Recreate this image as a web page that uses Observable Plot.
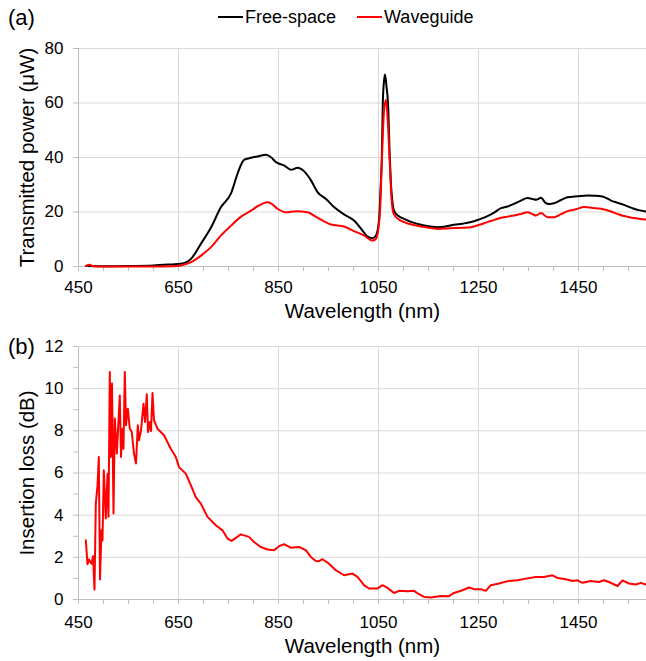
<!DOCTYPE html>
<html><head><meta charset="utf-8">
<script src="https://cdn.jsdelivr.net/npm/d3@7"></script>
<script src="https://cdn.jsdelivr.net/npm/@observablehq/plot@0.6"></script>
<style>
body{margin:0;background:#fff;font-family:"Liberation Sans",Arial,sans-serif;}
#wrap{position:relative;width:646px;height:661px;overflow:hidden;background:#fff}
.pane{position:absolute;left:0}
.lbl{position:absolute;font-size:22px;color:#000;line-height:1}
#legend{position:absolute;top:8px;left:218px;font-size:18px;color:#000;display:flex;align-items:center;line-height:1}
#legend .sw{display:inline-block;width:25px;height:2px;margin-right:2px}
#legend .it{display:flex;align-items:center;margin-right:21px}
</style></head><body>
<div id="wrap">
  <div id="pa" class="pane" style="top:0"></div>
  <div id="pb" class="pane" style="top:330px"></div>
  <div id="legend">
    <span class="it"><span class="sw" style="background:#000"></span>Free-space</span>
    <span class="it"><span class="sw" style="background:#ff0000"></span>Waveguide</span>
  </div>
  <div class="lbl" style="left:8px;top:7px">(a)</div>
  <div class="lbl" style="left:8px;top:336px">(b)</div>
</div>
<script>
// ---- Data ----
const xTicks = [450, 650, 850, 1050, 1250, 1450];
const xMinorTicks = [450,500,550,600,650,700,750,800,850,900,950,1000,1050,1100,1150,1200,1250,1300,1350,1400,1450,1500,1550];
const yTicksA = [0, 20, 40, 60, 80];
const yTicksB = [0, 2, 4, 6, 8, 10, 12];
const yMinorB = [0,1,2,3,4,5,6,7,8,9,10,11,12];

const wlFree = [465,475,500,550,600,630,655,675,695,715,735,755,768,781,795,808,825,835,845,861,875,888,901,915,928,945,961,981,1001,1018,1028,1038,1045,1051,1054,1056.6,1058.6,1061,1063,1066,1069,1072.6,1075,1078,1081,1090,1101,1118,1135,1150,1168,1185,1201,1218,1235,1250,1268,1282,1295,1308,1321,1335,1348,1358,1365,1375,1385,1393,1401,1415,1428,1448,1468,1482,1495,1505,1515,1528,1541,1561,1573,1585];
const pFree  = [0.3,0.2,0.1,0.2,0.4,0.7,1.0,2.8,8.4,14.3,21.8,26.8,34,39.1,39.9,40.4,41.0,40.1,38.3,37.1,35.5,36.2,35,31.6,27.3,24.8,21.8,19.1,16.9,13.2,11,10.4,11.4,17,28,40,60,68,70.5,66,60,40,30,23.5,20.5,18.5,17.5,16.2,15.3,14.8,14.4,14.7,15.3,15.7,16.3,17.2,18.5,19.9,21.4,22.0,23,24.2,25.1,24.8,24.5,25.2,23.2,22.9,23.2,24.4,25.4,25.8,26.1,26.0,25.8,25.2,24.2,23.4,22.6,21.2,20.6,20.2];

const wlWg = [465,473,478,500,550,600,635,655,675,695,715,735,755,775,795,811,828,835,848,865,885,908,928,955,981,1001,1021,1038,1045,1051,1053,1057,1061,1065,1068,1072,1076,1080,1090,1101,1118,1135,1150,1168,1185,1201,1218,1235,1250,1268,1282,1295,1308,1321,1335,1348,1358,1365,1375,1388,1401,1415,1428,1445,1461,1478,1495,1515,1528,1541,1561,1585];
const pWg  = [0.2,0.6,0.1,0.0,0.0,0.0,0.1,0.4,1.6,4.0,7.1,11.4,15,18.3,20.5,22.4,23.6,23.2,21.2,19.9,20.3,19.9,17.9,15.4,14.7,13,11.4,9.5,10.2,15.8,20,40,57,61.2,55,40,25,19.5,17.3,16.3,15.3,14.7,14.2,13.8,13.9,14.1,14.2,14.4,15.2,16.3,17.1,17.9,18.3,18.7,19.3,19.9,19.2,18.7,19.6,18.1,18.1,19.2,20.3,21.0,21.8,21.5,21.2,20.2,19.3,18.5,17.8,17.2];

const wlIL = [464.6,468,471,476,479,482,484.6,488,490.6,493,496,498,500.6,504.6,508,510,512.6,514.6,517,520,522.6,526.6,532.6,535,538,540,542.6,545,548.6,552.6,556.6,561,565,568.6,571,575,580,583,586.6,589,592.6,595,598,601,608,621,634.6,644.6,651,664.6,674.6,684.6,694.6,708,724.6,738,748,756,764.6,774.6,791,801,814.6,828,841,851,861,874.6,891,904.6,914.6,924.6,931,938,951,964.6,981,998,1008,1021,1031,1048,1058,1068,1081,1091,1108,1121,1131,1141,1154.6,1174.6,1191,1201,1218,1231,1241,1254.6,1264.6,1274.6,1291,1308,1328,1344.6,1364.6,1381,1398,1408,1424.6,1438,1448,1458,1474.6,1491,1501,1511,1528,1538,1551,1564.6,1574.6,1584.6];
const il = [2.81,1.67,1.9,1.7,2.05,0.47,4.55,5.4,6.76,0.95,3.28,2.8,6.13,3.84,5.97,3.92,10.79,6.76,10.24,4.08,8.58,6.92,9.68,6.76,8.1,7.15,10.79,8.26,9.05,8.1,7.94,6.92,6.45,8.26,7.55,8.02,9.29,8.42,9.73,7.94,8.42,7.99,9.79,8.5,8.1,7.79,7.15,6.76,6.28,5.97,5.42,4.86,4.55,3.92,3.52,3.28,2.89,2.78,2.92,3.09,2.97,2.73,2.49,2.37,2.34,2.53,2.62,2.46,2.49,2.34,2.02,1.83,1.82,1.91,1.7,1.39,1.15,1.23,1.07,0.68,0.52,0.52,0.68,0.55,0.31,0.41,0.39,0.41,0.25,0.12,0.09,0.17,0.16,0.31,0.44,0.57,0.49,0.49,0.41,0.68,0.76,0.87,0.91,0.99,1.07,1.07,1.15,1.02,0.96,0.88,0.91,0.79,0.88,0.83,0.91,0.83,0.64,0.91,0.76,0.71,0.79,0.71];

const free = wlFree.map((w, i) => ({wl: w, p: pFree[i]}));
const wg = wlWg.map((w, i) => ({wl: w, p: pWg[i]}));
const loss = wlIL.map((w, i) => ({wl: w, v: il[i]}));

const FONT = '"Liberation Sans", Arial, sans-serif';
const GRID = "#d9d9d9";
const AX = "#bfbfbf";
const xDomain = [450, 1586];
const fmt = d => String(d);

function panel({height, marginTop, marginBottom, yDomain, yTicks, yMinor, yLabel, lines, tickOff, titleOff}) {
  return Plot.plot({
    width: 646, height, marginTop, marginBottom, marginLeft: 78, marginRight: 0,
    style: {fontFamily: FONT, fontSize: "17px", color: "#000", background: "#fff", overflow: "visible"},
    x: {domain: xDomain},
    y: {domain: yDomain},
    marks: [
      Plot.gridX(xTicks, {stroke: GRID, strokeOpacity: 1, strokeWidth: 1}),
      Plot.gridY(yTicks, {stroke: GRID, strokeOpacity: 1, strokeWidth: 1}),
      Plot.ruleY([yDomain[0]], {stroke: AX, strokeWidth: 1}),
      Plot.ruleX([450], {stroke: AX, strokeWidth: 1}),
      Plot.axisX(xMinorTicks, {tickSize: 5, stroke: AX, strokeOpacity: 1, tickFormat: () => "", label: null}),
      Plot.axisX(xTicks, {tickSize: 0, tickPadding: tickOff, fontSize: 17, fill: "#000", tickFormat: fmt, label: null}),
      Plot.axisY(yMinor, {tickSize: 5, stroke: AX, strokeOpacity: 1, tickFormat: () => "", label: null}),
      Plot.axisY(yTicks, {tickSize: 0, tickPadding: 15, fontSize: 17, fill: "#000", tickFormat: fmt, label: null}),
      ...lines,
      Plot.text(["Wavelength (nm)"], {frameAnchor: "bottom", lineAnchor: "middle", dy: titleOff, text: d => d, fontSize: 20.5, fill: "#000"}),
      Plot.text([yLabel], {frameAnchor: "left", textAnchor: "middle", lineAnchor: "middle", dx: -51, rotate: -90, text: d => d, fontSize: 20.5, fill: "#000"})
    ]
  });
}

document.getElementById("pa").append(panel({
  height: 330, marginTop: 48, marginBottom: 64,
  yDomain: [0, 80], yTicks: yTicksA, yMinor: yTicksA,
  yLabel: "Transmitted power (μW)", tickOff: 14.5, titleOff: 45,
  lines: [
    Plot.line(free, {x: "wl", y: "p", stroke: "#000", strokeWidth: 2, curve: "monotone-x"}),
    Plot.line(wg, {x: "wl", y: "p", stroke: "#ff0000", strokeWidth: 2, curve: "monotone-x"})
  ]
}));

document.getElementById("pb").append(panel({
  height: 331, marginTop: 16, marginBottom: 62,
  yDomain: [0, 12], yTicks: yTicksB, yMinor: yMinorB,
  yLabel: "Insertion loss (dB)", tickOff: 16, titleOff: 47,
  lines: [
    Plot.line(loss, {x: "wl", y: "v", stroke: "#ff0000", strokeWidth: 2})
  ]
}));
</script>
</body></html>
